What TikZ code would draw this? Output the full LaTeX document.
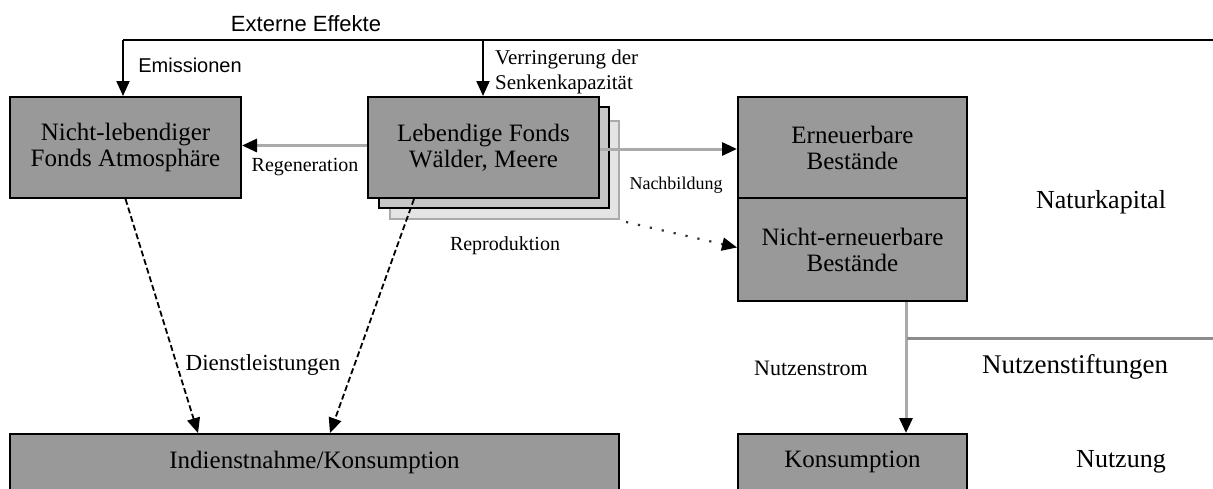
\documentclass[tikz,border=0pt]{standalone}
\usepackage{fontspec}
\setmainfont{Liberation Serif}
\newfontfamily\lsans{Liberation Sans}
\usetikzlibrary{arrows.meta,calc}
\definecolor{boxgray}{HTML}{999999}
\definecolor{shadowA}{HTML}{C6C6C6}
\definecolor{shadowB}{HTML}{E4E4E4}
\definecolor{lineA}{HTML}{AAAAAA}
\definecolor{lineB}{HTML}{8C8C8C}
\tikzset{
  fondbox/.style={draw=black, line width=2pt, fill=boxgray, inner sep=0pt, align=center,
    font=\fontsize{25}{26}\selectfont},
  lbl/.style={inner sep=0pt, align=center},
  tip/.style={-{Triangle[length=15pt,width=13pt,color=black]}},
  blackline/.style={draw=black, line width=2pt},
  grayline/.style={draw=lineA, line width=3pt},
  dashline/.style={draw=black, line width=1.8pt, dash pattern=on 6pt off 3pt},
  dotline/.style={draw=black!80, line width=2.2pt, dash pattern=on 2.2pt off 10pt},
}
\begin{document}
\begin{tikzpicture}[x=1pt,y=-1pt]
\useasboundingbox (0,0) rectangle (1213,488);
\fill[white] (0,0) rectangle (1213,488);

% boxes
\node[fondbox, minimum width=231pt, minimum height=101pt] (box1) at (125.5,147.5)
  {Nicht-lebendiger\\Fonds Atmosphäre};
\node[draw=lineA, line width=2pt, fill=shadowB, minimum width=229pt, minimum height=98pt, inner sep=0pt] (sh3) at (504.5,170) {};
\node[draw=black, line width=2pt, fill=shadowA, minimum width=230pt, minimum height=101pt, inner sep=0pt] (sh2) at (494,157.5) {};
\node[fondbox, minimum width=231pt, minimum height=101pt] (box2) at (483.5,147.5)
  {Lebendige Fonds\\Wälder, Meere};
\node[fondbox, minimum width=229pt, minimum height=101pt] (ern) at (852.5,147.5)
  {Erneuerbare\\Bestände};
\node[fondbox, minimum width=229pt, minimum height=103pt] (nern) at (852.5,249.5)
  {Nicht-erneuerbare\\Bestände};
\node[fondbox, minimum width=609pt, minimum height=56pt] (ind) at (314.5,462)
  {Indienstnahme/Konsumption};
\node[fondbox, minimum width=229pt, minimum height=56pt] (kons) at (852.5,462)
  {Konsumption};

% top: externe Effekte
\coordinate (eL) at (123,40);
\coordinate (eM) at (483,40);
\coordinate (eR) at (1216,40);
\draw[blackline] (eR) -- (eL);
\draw[blackline, tip] (eL) -- (eL |- box1.north);
\draw[blackline, tip] (eM) -- (eM |- box2.north);

% regeneration
\draw[grayline, tip] ([yshift=2pt]box2.west) -- ([yshift=2pt]box2.west -| box1.east);
% nachbildung
\draw[grayline, tip] ([yshift=-1.5pt]box2.east) -- ([yshift=-1.5pt]box2.east -| ern.west);
% reproduktion
\draw[dotline, tip] ([xshift=6pt,yshift=-2pt]sh3.south east) -- ([yshift=2pt]nern.west);
% dienstleistungen
\draw[dashline, tip] (box1.south) -- ([xshift=189pt]ind.north west);
\draw[dashline, tip] ([xshift=47pt]box2.south west) -- ([xshift=321pt]ind.north west);
% nutzenstrom
\coordinate (n1) at (907,338);
\coordinate (n2) at (1216,338);
\draw[grayline, tip] ([xshift=169pt]nern.south west) -- ([xshift=169pt]kons.north west);
\draw[draw=lineB, line width=3pt] (n1) -- (n2);

% labels
\node[lbl, font=\lsans\fontsize{22}{24}\selectfont] (tExt) at (306,24) {Externe Effekte};
\node[lbl, font=\lsans\fontsize{20}{22}\selectfont] (tEmi) at (190,65) {Emissionen};
\node[lbl, align=left, anchor=west, font=\fontsize{21}{25}\selectfont] (tVer) at (495,72)
  {Verringerung der\\Senkenkapazität};
\node[lbl, font=\fontsize{20}{22}\selectfont] (tReg) at (305,167) {Regeneration};
\node[lbl, font=\fontsize{18}{20}\selectfont] (tNach) at (676,185) {Nachbildung};
\node[lbl, font=\fontsize{20}{22}\selectfont] (tRep) at (505,246) {Reproduktion};
\node[lbl, font=\fontsize{23}{25}\selectfont] (tDie) at (263,365) {Dienstleistungen};
\node[lbl, font=\fontsize{22}{24}\selectfont] (tNs) at (811,368) {Nutzenstrom};
\node[lbl, font=\fontsize{27}{29}\selectfont] (tNst) at (1075,367) {Nutzenstiftungen};
\node[lbl, font=\fontsize{26}{28}\selectfont] (tNat) at (1101,202) {Naturkapital};
\node[lbl, font=\fontsize{26}{28}\selectfont] (tNutz) at (1121,462) {Nutzung};
\end{tikzpicture}
\end{document}
